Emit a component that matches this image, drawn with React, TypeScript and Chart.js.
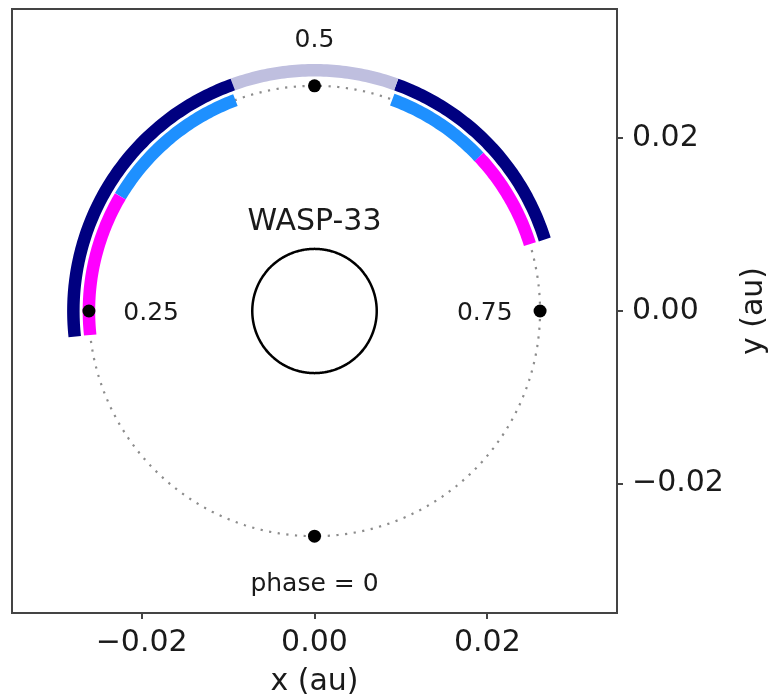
import React, { useEffect, useRef } from 'react';
import { Chart, registerables } from 'chart.js';

Chart.register(...registerables);

// ---------- data ----------
const axisMin = -0.035;
const axisMax = 0.035;
const xTicks = [-0.02, 0.0, 0.02];
const yTicks = [-0.02, 0.0, 0.02];
const xTitle = 'x (au)';
const yTitle = 'y (au)';

const orbitRadiusAu = 0.0261;
const outerRingRadiusAu = 0.0279;
const starRadiusAu = 0.0072;

const markerPhases = [0, 0.25, 0.5, 0.75];
const markerLabels = ['phase = 0', '0.25', '0.5', '0.75'];
const markerLabelX = [0, -0.0189, 0, 0.0197];
const markerLabelY = [-0.0314, 0, 0.0316, 0];

const starName = 'WASP-33';
const starLabelX = 0;
const starLabelY = 0.0107;

// inner ring (on the orbit)
const innerArcStart = [0.233, 0.335, 0.556, 0.63];
const innerArcEnd = [0.335, 0.443, 0.63, 0.702];
const innerArcKind = ['A', 'B', 'B', 'A'];

// outer ring
const outerArcStart = [0.233, 0.445, 0.555];
const outerArcEnd = [0.445, 0.555, 0.702];
const outerArcKind = ['C', 'D', 'C'];

// ---------- styles ----------
const FONT = 'DejaVu Sans';
const TEXT = '#1a1a1a';
const FRAME = '#444444';
const KIND_COLOR: Record<string, string> = {
  A: '#ff00ff',
  B: '#1e90ff',
  C: '#000080',
  D: '#bfbfdf',
};

const phaseXY = (phase: number, r: number) => ({
  x: -r * Math.sin(2 * Math.PI * phase),
  y: -r * Math.cos(2 * Math.PI * phase),
});

const arcPoints = (p0: number, p1: number, r: number) => {
  const n = Math.max(8, Math.ceil((p1 - p0) * 240));
  const pts = [];
  for (let i = 0; i <= n; i++) pts.push(phaseXY(p0 + ((p1 - p0) * i) / n, r));
  return pts;
};

const circlePoints = (r: number) => arcPoints(0, 1, r);

const fmtTick = (v: number) =>
  (v < -1e-12 ? '\u2212' : '') + Math.abs(v).toFixed(2);

const overlayPlugin = {
  id: 'overlay',
  afterDraw(chart: any) {
    const { ctx, chartArea, scales } = chart;
    const sx = scales.x;
    const sy = scales.y;
    ctx.save();
    ctx.strokeStyle = FRAME;
    ctx.lineWidth = 2;
    ctx.strokeRect(
      chartArea.left,
      chartArea.top,
      chartArea.right - chartArea.left,
      chartArea.bottom - chartArea.top
    );

    ctx.fillStyle = TEXT;
    ctx.textAlign = 'center';
    ctx.textBaseline = 'alphabetic';

    // phase labels
    const aSize = 25;
    ctx.font = `${aSize}px "${FONT}"`;
    markerLabels.forEach((t, i) => {
      const px = sx.getPixelForValue(markerLabelX[i]);
      const py = sy.getPixelForValue(markerLabelY[i]);
      ctx.fillText(t, px, py + 0.3645 * aSize);
    });

    // star name
    const sSize = 30;
    ctx.font = `${sSize}px "${FONT}"`;
    ctx.fillText(
      starName,
      sx.getPixelForValue(starLabelX),
      sy.getPixelForValue(starLabelY) + 0.3645 * sSize
    );

    // axis titles
    const tSize = 30;
    ctx.font = `${tSize}px "${FONT}"`;
    ctx.fillText(xTitle, (chartArea.left + chartArea.right) / 2, 690);
    ctx.save();
    ctx.translate(762, (chartArea.top + chartArea.bottom) / 2);
    ctx.rotate(-Math.PI / 2);
    ctx.fillText(yTitle, 0, 0);
    ctx.restore();
    ctx.restore();
  },
};

export default function App() {
  const ref = useRef<HTMLCanvasElement | null>(null);

  useEffect(() => {
    if (!ref.current) return;
    const datasets: any[] = [];

    datasets.push({
      label: 'markers',
      data: markerPhases.map((p) => phaseXY(p, orbitRadiusAu)),
      showLine: false,
      pointRadius: 6.5,
      pointBackgroundColor: '#000',
      pointBorderWidth: 0,
      order: 0,
    });

    datasets.push({
      label: 'star',
      data: circlePoints(starRadiusAu),
      showLine: true,
      pointRadius: 0,
      borderColor: '#000',
      borderWidth: 2.5,
      tension: 0.2,
      order: 1,
    });

    innerArcStart.forEach((s, i) => {
      datasets.push({
        label: 'inner' + i,
        data: arcPoints(s, innerArcEnd[i], orbitRadiusAu),
        showLine: true,
        pointRadius: 0,
        borderColor: KIND_COLOR[innerArcKind[i]],
        borderWidth: 12.5,
        borderCapStyle: 'butt',
        tension: 0.2,
        order: 2,
      });
    });

    outerArcStart.forEach((s, i) => {
      datasets.push({
        label: 'outer' + i,
        data: arcPoints(s, outerArcEnd[i], outerRingRadiusAu),
        showLine: true,
        pointRadius: 0,
        borderColor: KIND_COLOR[outerArcKind[i]],
        borderWidth: 12.5,
        borderCapStyle: 'butt',
        tension: 0.2,
        order: 2,
      });
    });

    datasets.push({
      label: 'orbit',
      data: circlePoints(orbitRadiusAu),
      showLine: true,
      pointRadius: 0,
      borderColor: '#8c8c8c',
      borderWidth: 2.2,
      borderDash: [2.2, 6.5],
      order: 3,
    });

    const chart = new Chart(ref.current, {
      type: 'scatter',
      data: { datasets },
      options: {
        animation: false,
        responsive: true,
        maintainAspectRatio: false,
        layout: { padding: { left: 12, top: 9, right: 0, bottom: 0 } },
        plugins: { legend: { display: false }, tooltip: { enabled: false } },
        scales: {
          x: {
            type: 'linear',
            position: 'bottom',
            min: axisMin,
            max: axisMax,
            afterFit: (s: any) => {
              s.height = 84;
              s.paddingLeft = 0;
              s.paddingRight = 0;
            },
            afterBuildTicks: (s: any) => {
              s.ticks = xTicks.map((v) => ({ value: v }));
            },
            grid: {
              drawOnChartArea: false,
              drawTicks: true,
              tickLength: 6,
              color: FRAME,
              lineWidth: 2,
            },
            border: { display: true, color: FRAME, width: 2 },
            ticks: {
              padding: 6,
              color: TEXT,
              font: { family: FONT, size: 30 },
              callback: (v: any) => fmtTick(Number(v)),
              maxRotation: 0,
              autoSkip: false,
            },
          },
          y: {
            type: 'linear',
            position: 'right',
            min: axisMin,
            max: axisMax,
            afterFit: (s: any) => {
              s.width = 160;
              s.paddingTop = 0;
              s.paddingBottom = 0;
            },
            afterBuildTicks: (s: any) => {
              s.ticks = yTicks.map((v) => ({ value: v }));
            },
            grid: {
              drawOnChartArea: false,
              drawTicks: true,
              tickLength: 6,
              color: FRAME,
              lineWidth: 2,
            },
            border: { display: true, color: FRAME, width: 2 },
            ticks: {
              padding: 9,
              color: TEXT,
              font: { family: FONT, size: 30 },
              callback: (v: any) => fmtTick(Number(v)),
              autoSkip: false,
            },
          },
        },
      },
      plugins: [overlayPlugin],
    });
    return () => chart.destroy();
  }, []);

  return (
    <div
      style={{
        position: 'absolute',
        left: 0,
        top: 0,
        width: 777,
        height: 697,
        background: '#fff',
      }}
    >
      <canvas ref={ref} />
    </div>
  );
}
